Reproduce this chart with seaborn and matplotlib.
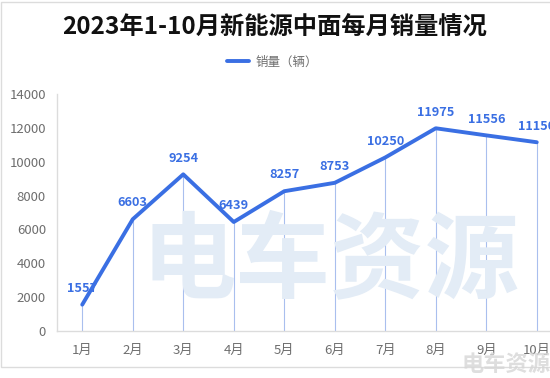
import matplotlib
matplotlib.use('Agg')
import matplotlib.pyplot as plt
import seaborn as sns
from matplotlib.patches import Rectangle

# monthly NEV sales of the Chinese mid-size segment, 2023
months = ['1月', '2月', '3月', '4月', '5月', '6月', '7月', '8月', '9月', '10月']
sales = [1557, 6603, 9254, 6439, 8257, 8753, 10250, 11975, 11556, 11150]
y_ticks = [0, 2000, 4000, 6000, 8000, 10000, 12000, 14000]

title = '2023年1-10月新能源中面每月销量情况'
legend_label = '销量（辆）'
watermark = '电车资源'

BLUE = '#3a6fe3'
GREY = '#6e6e6e'

sns.set_theme(style='white')
plt.rcParams['font.family'] = ['Noto Sans CJK SC', 'DejaVu Sans']

fig = plt.figure(figsize=(5.5, 3.78), dpi=100)
ax = fig.add_axes([57 / 550, 47 / 378, 505 / 550, 237 / 378])

pos = list(range(len(months)))

# big faint watermark behind the chart
fig.text(0.6, 1 - 262 / 378, watermark, fontsize=68, fontweight='bold',
         color='#e3ecf6', ha='center', va='center', zorder=0)

# drop lines from each point to the axis
ax.vlines(pos, 0, sales, color='#a9bfee', lw=0.8, zorder=1)

sns.lineplot(x=pos, y=sales, ax=ax, color=BLUE, lw=2.8, label=legend_label,
             legend=False, zorder=3)

for x, v in zip(pos, sales):
    ax.annotate(str(v), (x, v), xytext=(0, 7), textcoords='offset points',
                ha='center', va='bottom', fontsize=9.2, fontweight='bold',
                color=BLUE, annotation_clip=False)

ax.set_xlim(-0.5, 9.5)
ax.set_ylim(0, 14000)
ax.set_xticks(pos)
ax.set_xticklabels(months)
ax.set_yticks(y_ticks)
ax.tick_params(axis='both', length=0, labelsize=9.5, colors=GREY)
ax.tick_params(axis='x', pad=9)
ax.tick_params(axis='y', pad=8)

for side in ['top', 'right']:
    ax.spines[side].set_visible(False)
for side in ['left', 'bottom']:
    ax.spines[side].set_color('#dcdcdc')
    ax.spines[side].set_linewidth(1)
ax.patch.set_alpha(0)

fig.text(0.5, 1 - 28 / 378, title, fontsize=17.5, fontweight='bold',
         color='#111111', ha='center', va='center')

handles, labels = ax.get_legend_handles_labels()
fig.legend(handles, labels, loc='center', bbox_to_anchor=(0.495, 1 - 62 / 378),
           frameon=False, fontsize=9, labelcolor=GREY, handlelength=1.8,
           handletextpad=0.5)

# small watermark, bottom right
fig.text(1.0, 1 - 364 / 378, watermark, fontsize=16, fontweight='bold',
         color='#d6d6d6', ha='right', va='center', alpha=0.8)

# light frame around the picture
fig.patches.append(Rectangle((1 / 550, 11 / 378), 1.0, 365 / 378,
                             transform=fig.transFigure, fill=False,
                             edgecolor='#dcdcdc', lw=1))

fig.savefig('out.png', dpi=100)
